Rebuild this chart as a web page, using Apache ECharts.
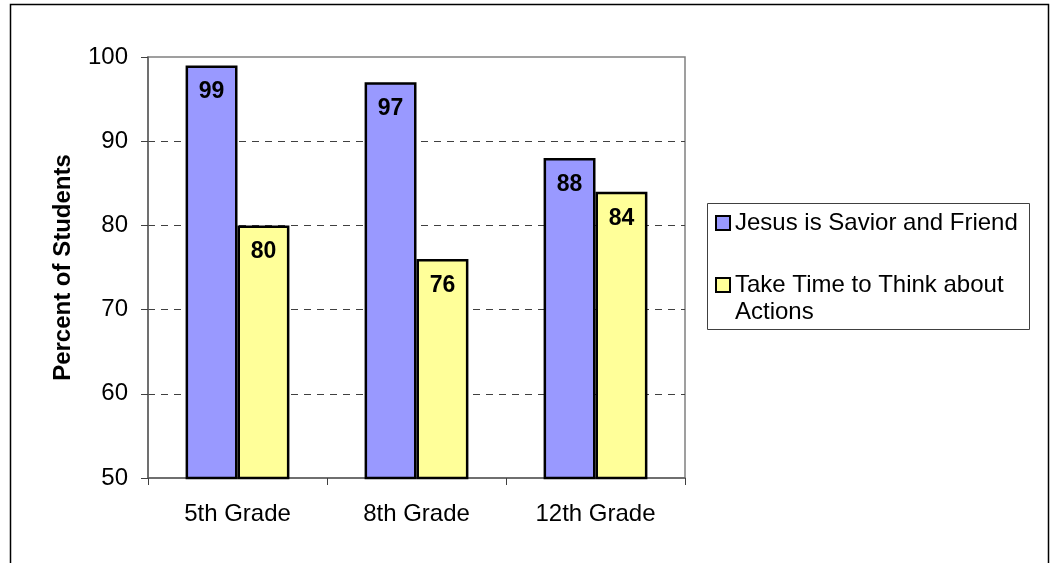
<!DOCTYPE html>
<html><head><meta charset="utf-8">
<script src="https://cdn.jsdelivr.net/npm/echarts@6/dist/echarts.min.js"></script>
<style>html,body{margin:0;padding:0;background:#fff}#c{width:1051px;height:563px}</style>
</head><body><div id="c"></div>
<script>
var categories = ['5th Grade', '8th Grade', '12th Grade'];
var seriesNames = ['Jesus is Savior and Friend', 'Take Time to Think about Actions'];
var jesusValues = [99, 97, 88];
var thinkValues = [80, 76, 84];
var yTicks = {min: 50, max: 100, interval: 10};
var yAxisTitle = 'Percent of Students';

var FONT = '"Liberation Sans", Arial, sans-serif';
var colors = ['#9999FF', '#FFFF99'];
var chart = echarts.init(document.getElementById('c'));

function barSeries(name, data, color) {
  return {
    name: name, type: 'bar', data: data,
    barGap: '0%', barCategoryGap: '42%',
    itemStyle: {color: color, borderColor: '#000', borderWidth: 2.5},
    label: {show: true, position: 'insideTop', distance: 15, color: '#000',
      fontFamily: FONT, fontWeight: 'bold', fontSize: 23},
    animation: false
  };
}

chart.setOption({
  animation: false,
  grid: {left: 148, top: 57, right: 366, bottom: 85, show: true, borderColor: '#808080', borderWidth: 1.5, backgroundColor: '#fff'},
  xAxis: {
    type: 'category', data: categories,
    axisLine: {lineStyle: {color: '#606060', width: 1.5}},
    axisTick: {show: true, alignWithLabel: false, length: 7, lineStyle: {color: '#404040'}},
    axisLabel: {color: '#000', fontFamily: FONT, fontSize: 24, margin: 24}
  },
  yAxis: {
    type: 'value', min: yTicks.min, max: yTicks.max, interval: yTicks.interval,
    name: yAxisTitle, nameLocation: 'middle', nameGap: 73, nameRotate: 90,
    nameTextStyle: {color: '#000', fontFamily: FONT, fontWeight: 'bold', fontSize: 24},
    axisLine: {show: true, lineStyle: {color: '#606060', width: 1.5}},
    axisTick: {show: true, length: 7, lineStyle: {color: '#404040'}},
    axisLabel: {color: '#000', fontFamily: FONT, fontSize: 24, margin: 20},
    splitLine: {show: true, showMinLine: false, showMaxLine: false, lineStyle: {color: '#404040', type: [7, 6], width: 1}}
  },
  legend: [
    {data: [seriesNames[0]], left: 715, top: 209.5, padding: 0, orient: 'vertical',
      icon: 'rect', itemWidth: 14, itemHeight: 14, selectedMode: false,
      textStyle: {color: '#000', fontFamily: FONT, fontSize: 24, lineHeight: 27}},
    {data: [seriesNames[1]], left: 715, top: 244.5, padding: 0, orient: 'vertical',
      icon: 'rect', itemWidth: 14, itemHeight: 14, selectedMode: false,
      formatter: function (n) { return '\n' + n.replace(' about ', ' about\n'); },
      textStyle: {color: '#000', fontFamily: FONT, fontSize: 24, lineHeight: 27}}
  ],
  graphic: [
    {type: 'rect', shape: {x: 10.5, y: 4.5, width: 1038, height: 620}, style: {fill: 'none', stroke: '#000', lineWidth: 1.5}, silent: true, z: -1},
    {type: 'rect', shape: {x: 707.5, y: 203.5, width: 322, height: 126}, style: {fill: '#fff', stroke: '#404040', lineWidth: 1}, silent: true, z: -1}
  ],
  series: [
    barSeries(seriesNames[0], jesusValues, colors[0]),
    barSeries(seriesNames[1], thinkValues, colors[1])
  ]
});
</script></body></html>
